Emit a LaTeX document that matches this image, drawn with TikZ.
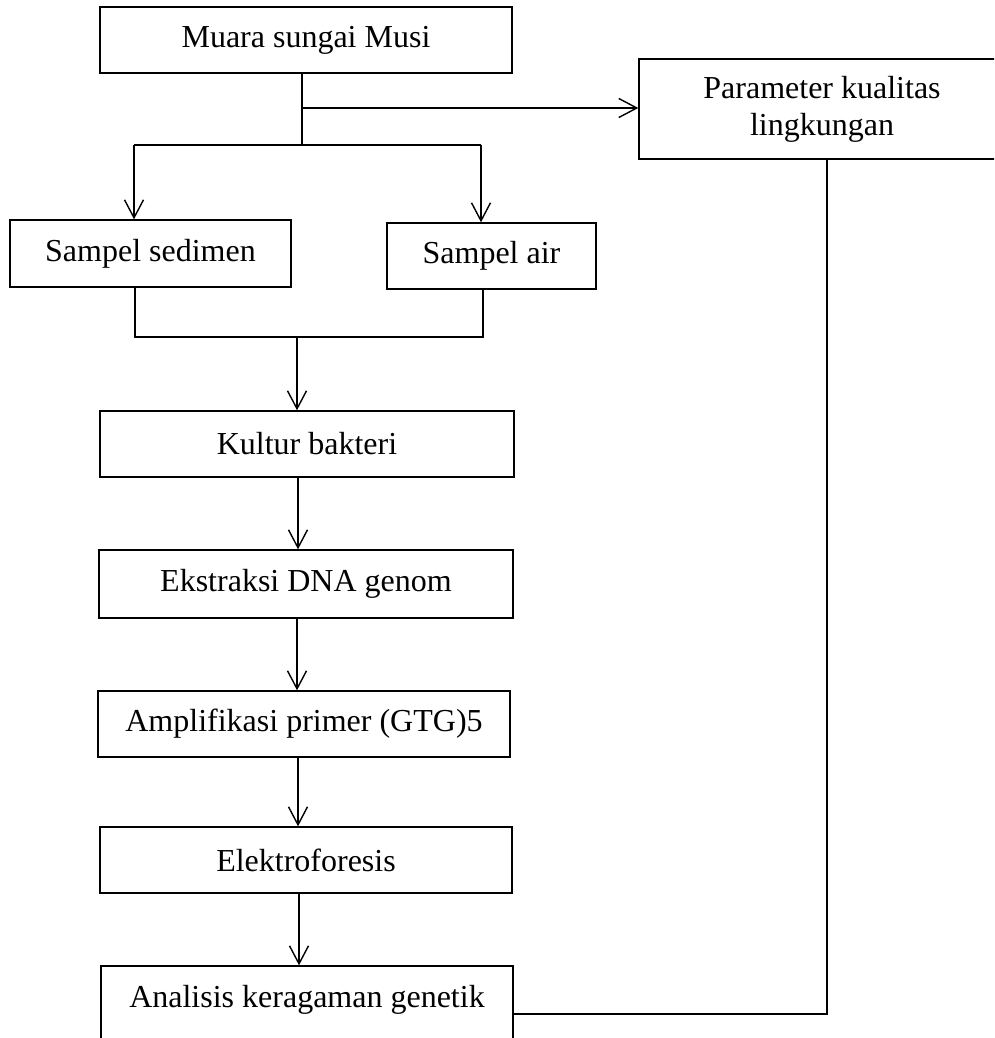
\documentclass[tikz,border=0pt]{standalone}
\usepackage{fontspec}
\setmainfont{Liberation Serif}
\usetikzlibrary{arrows.meta}
\begin{document}
\begin{tikzpicture}[x=1pt,y=-1pt,
  box/.style={draw, line width=1.4pt, inner sep=0pt, font=\fontsize{32}{37}\selectfont},
  arr/.style={line width=1.4pt, -{Straight Barb[length=18pt,width=19pt,line width=1.4pt]}},
  link/.style={line width=1.4pt},
  thicklink/.style={line width=2pt}]
\useasboundingbox (0,0) rectangle (994,1038);
\clip (0,0) rectangle (994,1038);
\fill[white] (0,0) rectangle (994,1038);

% boxes
\node[box, minimum width=412pt, minimum height=66pt] (muara) at (306,40) {Muara sungai Musi};
\node[box, align=center, minimum width=366pt, minimum height=100pt] (param) at (822,109) {Parameter kualitas\\lingkungan};
\node[box, minimum width=281pt, minimum height=67pt] (sed) at (150.5,253.5) {Sampel sedimen};
\node[box, minimum width=209pt, minimum height=66pt] (air) at (491.5,256) {Sampel air};
\node[box, minimum width=414pt, minimum height=66pt] (kultur) at (307,444) {Kultur bakteri};
\node[box, minimum width=414pt, minimum height=68pt] (ekstr) at (306,584) {Ekstraksi DNA genom};
\node[box, minimum width=412pt, minimum height=66pt] (ampl) at (304,724) {Amplifikasi primer (GTG)5};
\node[box, minimum width=412pt, minimum height=66pt] (elek) at (306,860) {Elektroforesis};
\node[box, minimum width=412pt, text height=41pt, text depth=70pt, anchor=base] (anal) at (307,1007) {Analisis keragaman genetik};

% split from Muara
\coordinate (stem) at (302,145);
\coordinate (tap) at (302,108);
\coordinate (bl) at (134,145);
\coordinate (br) at (481,145);
\draw[link] (muara.south -| stem) -- (stem);
\draw[arr] (tap) -- (tap -| param.west);
\draw[thicklink] (bl) -- (br);
\draw[arr] (bl) -- (bl |- sed.north);
\draw[arr] (br) -- (br |- air.north);

% join of samples
\coordinate (jl) at (135,337);
\coordinate (jr) at (483,337);
\coordinate (jm) at (297,337);
\draw[line width=1.8pt] (jl |- sed.south) -- (jl) -- (jr) -- (jr |- air.south);
\draw[arr] (jm) -- (jm |- kultur.north);

% main chain
\coordinate (c1) at (298,0);
\coordinate (c2) at (297,0);
\coordinate (c3) at (298,0);
\coordinate (c4) at (299,0);
\draw[arr] (c1 |- kultur.south) -- (c1 |- ekstr.north);
\draw[arr] (c2 |- ekstr.south) -- (c2 |- ampl.north);
\draw[arr] (c3 |- ampl.south) -- (c3 |- elek.north);
\draw[arr] (c4 |- elek.south) -- (c4 |- anal.north);

% feedback line from analysis to parameters
\coordinate (rc) at (827,1014);
\draw[thicklink] (rc -| anal.east) -- (rc) -- (rc |- param.south);
\end{tikzpicture}
\end{document}
